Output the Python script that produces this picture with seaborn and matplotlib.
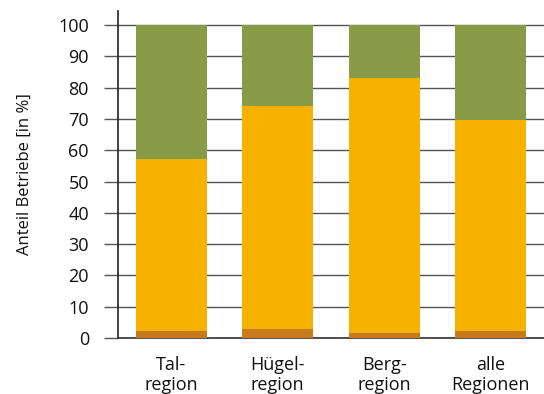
import matplotlib
matplotlib.use("Agg")
import matplotlib.pyplot as plt
import seaborn as sns
import pandas as pd
import numpy as np

# Anteil der Betriebe je Region (in %), drei Gruppen von unten nach oben
regionen = ["Tal-\nregion", "Hügel-\nregion", "Berg-\nregion", "alle\nRegionen"]
anteil_unten = [2.2, 2.8, 1.7, 2.2]
anteil_mitte = [55.1, 71.3, 81.4, 67.4]
anteil_oben = [42.7, 25.9, 16.9, 30.4]
y_ticks = [0, 10, 20, 30, 40, 50, 60, 70, 80, 90, 100]

farbe_unten = "#C77B1E"
farbe_mitte = "#F7B100"
farbe_oben = "#8A9B48"

sns.set_theme(style="white")
plt.rcParams["font.family"] = ["Open Sans", "DejaVu Sans"]

df = pd.DataFrame({
    "region": regionen,
    "unten": anteil_unten,
    "mitte": anteil_mitte,
    "oben": anteil_oben,
})
df["kum_unten"] = df["unten"]
df["kum_mitte"] = df["unten"] + df["mitte"]
df["kum_oben"] = df["kum_mitte"] + df["oben"]

fig = plt.figure(figsize=(5.44, 3.94), dpi=100)
ax = fig.add_axes([0.217, 0.142, 0.783, 0.830])

# gestapelte Balken: kumulierte Summen übereinander zeichnen
for spalte, farbe in [("kum_oben", farbe_oben), ("kum_mitte", farbe_mitte), ("kum_unten", farbe_unten)]:
    sns.barplot(data=df, x="region", y=spalte, color=farbe, width=0.664,
                saturation=1, ax=ax, zorder=3, linewidth=0)

ax.set_xlim(-0.5, 3.5)
ax.set_ylim(0, 104.5)
ax.set_yticks(y_ticks)
ax.set_yticklabels([str(t) for t in y_ticks])
ax.yaxis.grid(True, color="#555555", linewidth=1.0, zorder=0)
ax.set_axisbelow(True)

for s in ["top", "right"]:
    ax.spines[s].set_visible(False)
ax.spines["left"].set_color("#222222")
ax.spines["left"].set_linewidth(1.2)
ax.spines["bottom"].set_color("#333333")
ax.spines["bottom"].set_linewidth(1.2)

ax.tick_params(axis="y", which="major", direction="out", length=10, width=1.0,
               color="#555555", pad=11, labelsize=13, labelcolor="#111111", left=True)
ax.tick_params(axis="x", length=0, pad=13, labelsize=13, labelcolor="#111111")
for lbl in ax.get_xticklabels():
    lbl.set_linespacing(1.15)

ax.set_xlabel("")
ax.set_ylabel("Anteil Betriebe [in %]", fontsize=12, color="#111111", labelpad=18)

fig.savefig("out.png", dpi=100)
